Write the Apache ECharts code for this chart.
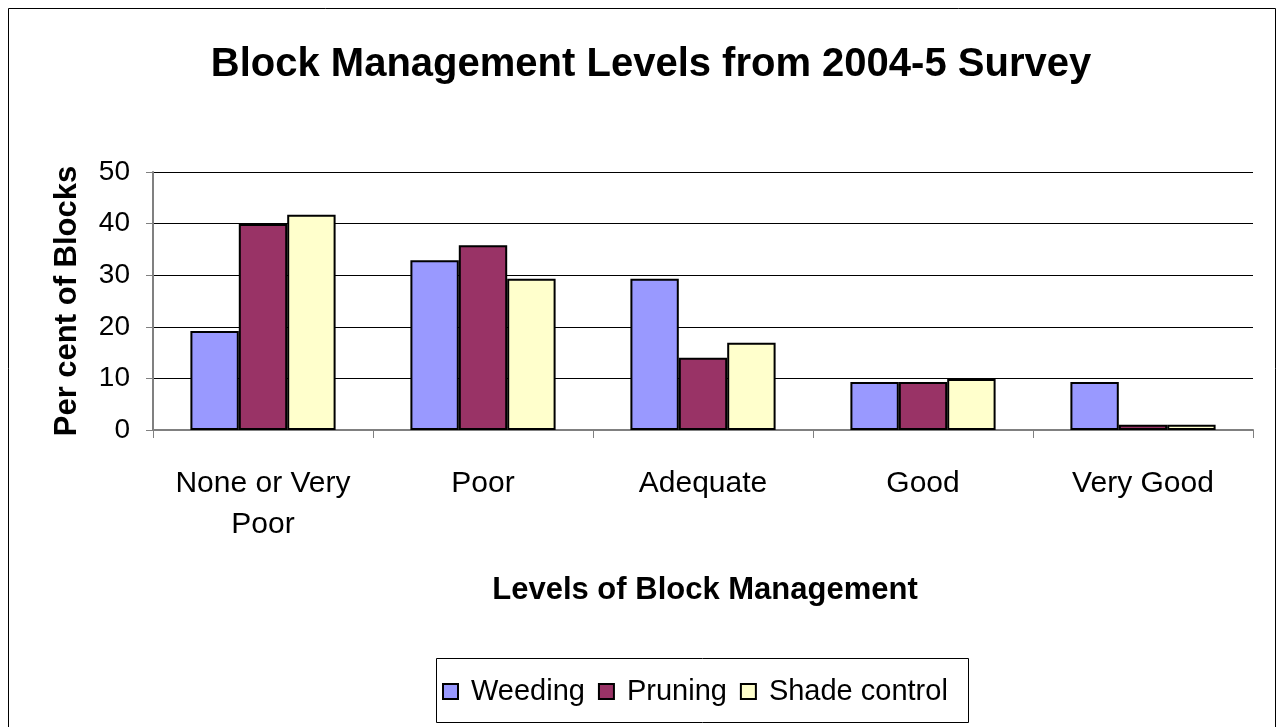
<!DOCTYPE html>
<html><head><meta charset="utf-8">
<script src="https://cdn.jsdelivr.net/npm/echarts@6/dist/echarts.min.js"></script>
<style>html,body{margin:0;padding:0;background:#fff}#c{width:1279px;height:727px}</style>
</head><body><div id="c"></div>
<script>
const categories = ['None or Very\nPoor', 'Poor', 'Adequate', 'Good', 'Very Good'];
const weeding = [19.2, 32.9, 29.3, 9.3, 9.3];
const pruning = [39.9, 35.8, 14.0, 9.3, 1.0];
const shadeControl = [41.7, 29.3, 16.9, 9.9, 1.0];
const seriesNames = ['Weeding', 'Pruning', 'Shade control'];
const yTicks = [0, 10, 20, 30, 40, 50];

const colors = ['#9999FF', '#993366', '#FFFFCC'];
const font = 'Liberation Sans, Arial, sans-serif';
const chart = echarts.init(document.getElementById('c'));
const mk = (name, data, color) => ({
  name, type: 'bar', data,
  barGap: '0%', barCategoryGap: '34%',
  itemStyle: { color, borderColor: '#000', borderWidth: 2 }
});
chart.setOption({
  animation: false,
  backgroundColor: '#fff',
  title: {
    text: 'Block Management Levels from 2004-5 Survey',
    left: 646, top: 40, textAlign: 'center',
    textStyle: { fontFamily: font, fontSize: 40, fontWeight: 'bold', color: '#000' }
  },
  graphic: [
    { type: 'rect', shape: { x: 8.5, y: 8.5, width: 1267, height: 740 },
      style: { fill: 'none', stroke: '#000', lineWidth: 1 }, z: 100 },
    { type: 'rect', shape: { x: 436.5, y: 658.5, width: 532, height: 64 },
      style: { fill: 'none', stroke: '#000', lineWidth: 1 }, z: 100 }
  ],
  legend: {
    data: seriesNames,
    left: 437, top: 672,
    itemWidth: 15, itemHeight: 15, itemGap: 13,
    icon: 'rect',
    textStyle: { fontFamily: font, fontSize: 29, color: '#000', padding: [0, 0, 0, 8] },
    itemStyle: { borderColor: '#000', borderWidth: 2 }
  },
  grid: { left: 153, right: 26, top: 172, bottom: 297, containLabel: false },
  xAxis: {
    type: 'category', data: categories,
    name: 'Levels of Block Management', nameLocation: 'middle', nameGap: 145,
    nameTextStyle: { fontFamily: font, fontSize: 31, fontWeight: 'bold', color: '#000', padding: [0, 0, 0, 4] },
    axisLine: { lineStyle: { color: '#808080', width: 2 } },
    axisTick: { show: true, length: 8, lineStyle: { color: '#808080', width: 1 } },
    axisLabel: { fontFamily: font, fontSize: 30, color: '#000', margin: 33, lineHeight: 41, interval: 0 }
  },
  yAxis: {
    type: 'value', min: 0, max: 50, interval: 10,
    name: 'Per cent of Blocks', nameLocation: 'middle', nameGap: 70,
    nameTextStyle: { fontFamily: font, fontSize: 31, fontWeight: 'bold', color: '#000' },
    axisLine: { show: true, lineStyle: { color: '#808080', width: 2 } },
    axisTick: { show: true, length: 7, lineStyle: { color: '#808080' } },
    axisLabel: { fontFamily: font, fontSize: 28, color: '#000', margin: 23,
      formatter: v => yTicks.includes(v) ? String(v) : '' },
    splitLine: { lineStyle: { color: '#000', width: 1 } }
  },
  series: [
    mk(seriesNames[0], weeding, colors[0]),
    mk(seriesNames[1], pruning, colors[1]),
    mk(seriesNames[2], shadeControl, colors[2])
  ]
});
</script></body></html>
